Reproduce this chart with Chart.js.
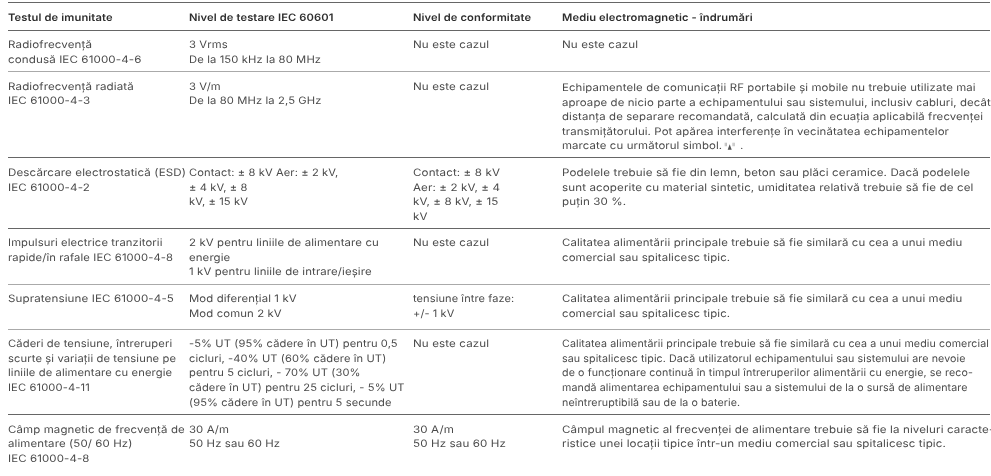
<!DOCTYPE html>
<html lang="ro">
<head>
<meta charset="utf-8">
<style>html,body{margin:0;padding:0;background:#fff}canvas{display:block}</style>
<script src="https://cdn.jsdelivr.net/npm/chart.js@4"></script>
</head>
<body>
<canvas id="c" width="991" height="476"></canvas>
<script>
const headers = ["Testul de imunitate","Nivel de testare IEC 60601","Nivel de conformitate","Mediu electromagnetic - îndrumări"];
const testCol = [
 ["Radiofrecvență","condusă IEC 61000-4-6"],
 ["Radiofrecvență radiată","IEC 61000-4-3"],
 ["Descărcare electrostatică (ESD)","IEC 61000-4-2"],
 ["Impulsuri electrice tranzitorii","rapide/în rafale IEC 61000-4-8"],
 ["Supratensiune IEC 61000-4-5"],
 ["Căderi de tensiune, întreruperi","scurte și variații de tensiune pe","liniile de alimentare cu energie","IEC 61000-4-11"],
 ["Câmp magnetic de frecvență de","alimentare (50/ 60 Hz)","IEC 61000-4-8"]
];
const levelCol = [
 ["3 Vrms","De la 150 kHz la 80 MHz"],
 ["3 V/m","De la 80 MHz la 2,5 GHz"],
 ["Contact: ± 8 kV Aer: ± 2 kV,","± 4 kV, ± 8","kV, ± 15 kV"],
 ["2 kV pentru liniile de alimentare cu","energie","1 kV pentru liniile de intrare/ieșire"],
 ["Mod diferențial 1 kV","Mod comun 2 kV"],
 ["-5% UT (95% cădere în UT) pentru 0,5","cicluri, -40% UT (60% cădere în UT)","pentru 5 cicluri, - 70% UT (30%","cădere în UT) pentru 25 cicluri, - 5% UT","(95% cădere în UT) pentru 5 secunde"],
 ["30 A/m","50 Hz sau 60 Hz"]
];
const complianceCol = [
 ["Nu este cazul"],
 ["Nu este cazul"],
 ["Contact: ± 8 kV","Aer: ± 2 kV, ± 4","kV, ± 8 kV, ± 15","kV"],
 ["Nu este cazul"],
 ["tensiune între faze:","+/- 1 kV"],
 ["Nu este cazul"],
 ["30 A/m","50 Hz sau 60 Hz"]
];
const guidanceCol = [
 ["Nu este cazul"],
 ["Echipamentele de comunicații RF portabile și mobile nu trebuie utilizate mai","aproape de nicio parte a echipamentului sau sistemului, inclusiv cabluri, decât","distanța de separare recomandată, calculată din ecuația aplicabilă frecvenței","transmițătorului. Pot apărea interferențe în vecinătatea echipamentelor","marcate cu următorul simbol."],
 ["Podelele trebuie să fie din lemn, beton sau plăci ceramice. Dacă podelele","sunt acoperite cu material sintetic, umiditatea relativă trebuie să fie de cel","puțin 30 %."],
 ["Calitatea alimentării principale trebuie să fie similară cu cea a unui mediu","comercial sau spitalicesc tipic."],
 ["Calitatea alimentării principale trebuie să fie similară cu cea a unui mediu","comercial sau spitalicesc tipic."],
 ["Calitatea alimentării principale trebuie să fie similară cu cea a unui mediu comercial","sau spitalicesc tipic. Dacă utilizatorul echipamentului sau sistemului are nevoie","de o funcționare continuă în timpul întreruperilor alimentării cu energie, se reco-","mandă alimentarea echipamentului sau a sistemului de la o sursă de alimentare","neîntreruptibilă sau de la o baterie."],
 ["Câmpul magnetic al frecvenței de alimentare trebuie să fie la niveluri caracte-","ristice unei locații tipice într-un mediu comercial sau spitalicesc tipic."]
];
const columns = [testCol, levelCol, complianceCol, guidanceCol];

// layout of the table on the page-pixel scales
const colX = [8, 189, 413, 562];
const rowY = [46, 88, 176, 247, 304, 350, 437];
const headerY = 18;
const ruleY = [3, 31, 73, 160, 232, 289, 335, 422];
const ruleColor = ["#666","#666","#aaa","#666","#666","#aaa","#aaa","#666"];
const LH = 14.6;
const FONT = 'Inter, sans-serif';
const BODY = `10.3px ${FONT}`, HEAD = `600 10.3px ${FONT}`;
const STRETCH = 1.125, HEAD_STRETCH = 1.085, TRACK = '0.1px';
const cellFit = [
 [1,1,1,.97,1,.966,.99],
 [.97,.97,.962,.985,.98,.96,.98],
 [1,1,1,1,.95,1,1],
 [1,.984,1,.985,.985,.92,1]
];
const drawStretched = (ctx, s, px, py, k) => {
  ctx.save(); ctx.translate(px, py); ctx.scale(k, 1); ctx.fillText(s, 0, 0); ctx.restore();
};

const cellText = {
  id: 'cellText',
  afterDatasetsDraw(chart) {
    const {ctx, scales:{x,y}} = chart;
    ctx.save();
    ctx.textRendering = 'geometricPrecision';
    ctx.letterSpacing = TRACK;
    ctx.textBaseline = 'middle'; ctx.textAlign = 'left';
    ctx.fillStyle = '#2e2e2e'; ctx.font = HEAD;
    headers.forEach((h,i)=>drawStretched(ctx, h, x.getPixelForValue(colX[i]), y.getPixelForValue(headerY), HEAD_STRETCH));
    ctx.fillStyle = '#4a4a4a'; ctx.font = BODY;
    chart.data.datasets.forEach((ds,i)=>{
      chart.getDatasetMeta(i).data.forEach((pt,r)=>{
        const k = STRETCH * cellFit[i][r];
        const dy = (i===3 && r===1) ? 1.3 : 0;
        columns[i][r].forEach((line,n)=>drawStretched(ctx, line, pt.x, pt.y + dy + n*LH, k));
      });
    });
    // RF symbol after the guidance text of the second row
    const last = columns[3][1];
    const pt = chart.getDatasetMeta(3).data[1];
    const tx = pt.x + ctx.measureText(last[last.length-1]).width*STRETCH*cellFit[3][1] + 2;
    const ty = pt.y + 1.3 + (last.length-1)*LH;
    ctx.fillStyle = '#555';
    ctx.beginPath(); ctx.moveTo(tx+5.5,ty-2); ctx.lineTo(tx+7.5,ty+3.5); ctx.lineTo(tx+3.5,ty+3.5); ctx.closePath(); ctx.fill();
    ctx.strokeStyle='#999'; ctx.lineWidth=.7;
    [1,2.2,8.8,10].forEach(dx=>{ctx.beginPath();ctx.moveTo(tx+dx,ty-3.5);ctx.lineTo(tx+dx,ty);ctx.stroke();});
    ctx.fillStyle='#4a4a4a';
    ctx.fillText('.', tx+16, ty);
    ctx.restore();
  }
};

new Chart(document.getElementById('c'), {
  type: 'scatter',
  data: { datasets: columns.map((col,i)=>({
    label: headers[i],
    data: rowY.map(v=>({x: colX[i], y: v})),
    pointRadius: 0, pointHoverRadius: 0
  }))},
  options: {
    responsive:false, animation:false, events:[],
    layout:{padding:{left:8,right:1,top:0,bottom:0}},
    plugins:{legend:{display:false},tooltip:{enabled:false}},
    scales:{
      x:{type:'linear',min:8,max:990,display:true,border:{display:false},grid:{display:false},ticks:{display:false}},
      y:{type:'linear',reverse:true,min:0,max:476,display:true,border:{display:false},
         afterBuildTicks(s){s.ticks=ruleY.map(v=>({value:v}));},
         grid:{drawTicks:false,lineWidth:1,color:c=>ruleColor[c.index]},
         ticks:{display:false}}
    }
  },
  plugins:[cellText]
});
</script>
</body>
</html>
